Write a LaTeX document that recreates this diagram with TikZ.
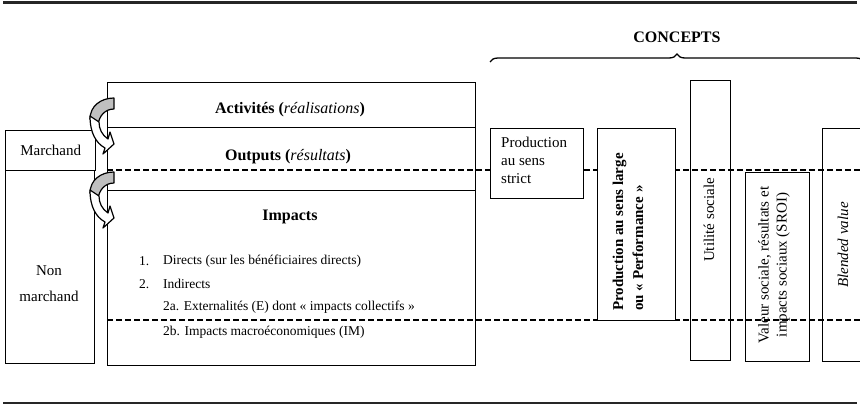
\documentclass[tikz,border=0pt]{standalone}
\usepackage{fontspec}
\setmainfont{Liberation Serif}
\usetikzlibrary{decorations.pathreplacing}
\begin{document}
\begin{tikzpicture}[x=1pt,y=-1pt,
  box/.style={draw, line width=1.4pt, inner sep=0pt, anchor=north west},
  opaquebox/.style={box, fill=white},
  dashline/.style={line width=1.7pt, dash pattern=on 5.5pt off 3.5pt},
  rule/.style={line width=2.6pt, draw=black!85},
  txt/.style={font=\fontsize{15}{18}\selectfont, inner sep=0pt},
  ttl/.style={font=\fontsize{16}{19}\selectfont\bfseries, inner sep=0pt},
  lst/.style={font=\fontsize{13.5}{16}\selectfont, inner sep=0pt, anchor=west},
  backarrow/.style={draw, line width=1.2pt, fill=black!25, line join=round},
  frontarrow/.style={draw, line width=1.2pt, fill=white, line join=round},
  curvarrow/.pic={
    \path[backarrow] (0,0) .. controls (-13,0) and (-24,8) .. (-24,21)
      -- (-16,27) .. controls (-15,18) and (-9,11) .. (0,11) -- cycle;
    \path[frontarrow] (-24,18) .. controls (-24,35) and (-18,45) .. (-9,50)
      -- (-11,56) -- (0,46) -- (-4,34) -- (-6,41)
      .. controls (-12,37) and (-15,31) .. (-15,24) -- cycle;
  }]
\clip (0,0) rectangle (860,405);
% rules
\coordinate (tl) at (3,2.5);
\coordinate (tr) at (857,2.5);
\coordinate (bl) at (3,403);
\coordinate (br) at (857,403);
\draw[rule] (tl) -- (tr);
\draw[rule] (bl) -- (br);
% dashed lines
\coordinate (d1a) at (107,170);
\coordinate (d1b) at (860,170);
\coordinate (d2a) at (107,320);
\coordinate (d2b) at (860,320);
\draw[dashline] (d1a) -- (d1b);
\draw[dashline] (d2a) -- (d2b);
% left boxes
\node[box, minimum width=368, minimum height=45] (act) at (107,82) {};
\node[box, minimum width=368, minimum height=63] (out) at (107,127) {};
\node[box, minimum width=368, minimum height=175] (imp) at (107,190) {};
\node[box, minimum width=90, minimum height=40] (mar) at (5,130) {};
\node[box, minimum width=89, minimum height=193] (nonm) at (5,170) {};
% right boxes
\node[opaquebox, minimum width=93, minimum height=70] (pss) at (490,128) {};
\node[opaquebox, minimum width=78, minimum height=192] (psl) at (597,128) {};
\node[box, minimum width=40, minimum height=280] (us) at (690,80) {};
\node[box, minimum width=64, minimum height=189] (vs) at (745,171.5) {};
\node[box, minimum width=60, minimum height=233] (bv) at (822,128) {};
% texts
\node[ttl] (tact) at (290,110) {Activités (\textit{\mdseries réalisations})};
\node[ttl] (tout) at (288,157) {Outputs (\textit{\mdseries résultats})};
\node[ttl] (timp) at (290,217) {Impacts};
\node[lst] (n1) at (139,261) {1.};
\node[lst] (l1) at (163,261) {Directs (sur les bénéficiaires directs)};
\node[lst] (n2) at (139,284) {2.};
\node[lst] (l2) at (163,284) {Indirects};
\node[lst] (l3) at (163,307) {2a. Externalités (E) dont « impacts collectifs »};
\node[lst] (l4) at (163,332) {2b. Impacts macroéconomiques (IM)};
\node[txt] (tmar) at (mar.center) {Marchand};
\node[txt, align=center, font=\fontsize{15}{26}\selectfont] (tnonm) at (49,284) {Non\\marchand};
\node[txt, align=left, anchor=west] (tpss) at (501,160) {Production\\au sens\\strict};
\node[txt, rotate=90, align=left, font=\fontsize{15}{20}\selectfont\bfseries] (tpsl) at (628,232) {Production au sens large\\ou « Performance »};
\node[txt, rotate=90] (tus) at (709,220) {Utilité sociale};
\node[txt, rotate=90, align=center] (tvs) at (774,265) {Valeur sociale, résultats et\\impacts sociaux (SROI)};
\node[txt, rotate=90] (tbv) at (843,245) {\textit{Blended value}};
% concepts
\node[ttl] (conc) at (677,37) {CONCEPTS};
\coordinate (bra) at (490,62);
\coordinate (brb) at (864,62);
\draw[decorate, decoration={brace, amplitude=8pt}, line width=1.3pt] (bra) -- (brb);
% curved arrows
\pic at (114,98) {curvarrow};
\pic at (114,172) {curvarrow};
\end{tikzpicture}
\end{document}
